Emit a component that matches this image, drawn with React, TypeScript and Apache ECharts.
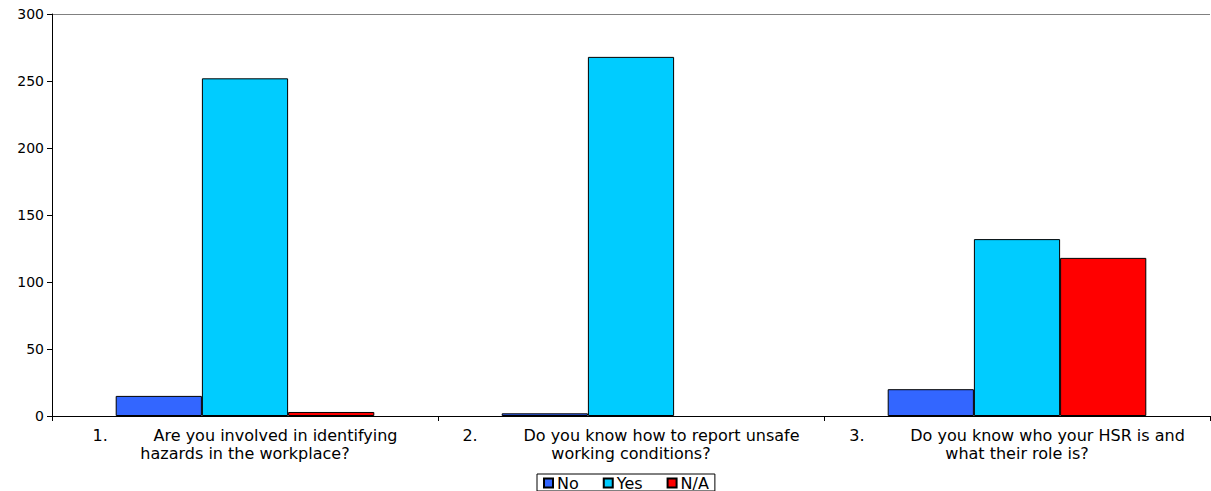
import React, { useEffect, useRef } from "react";
import * as echarts from "echarts";

const categories = [
  "1.         Are you involved in identifying\nhazards in the workplace?",
  "2.         Do you know how to report unsafe\nworking conditions?",
  "3.         Do you know who your HSR is and\nwhat their role is?",
];
const seriesNames = ["No", "Yes", "N/A"];
const noValues = [15, 2, 20];
const yesValues = [252, 268, 132];
const naValues = [3, null, 118];
const seriesColors = ["#3366FF", "#00CCFF", "#FF0000"];

export default function App() {
  const ref = useRef<HTMLDivElement>(null);
  useEffect(() => {
    if (!ref.current) return;
    const chart = echarts.init(ref.current, null, { renderer: "svg" });
    const font = "DejaVu Sans";
    const values = [noValues, yesValues, naValues];
    chart.setOption({
      animation: false,
      textStyle: { fontFamily: font },
      grid: { left: 52, right: 1, top: 14, bottom: 75, containLabel: false },
      legend: {
        bottom: 0,
        left: 537,
        data: seriesNames,
        icon: "rect",
        itemWidth: 9,
        itemHeight: 9,
        itemGap: 24,
        borderColor: "#000",
        borderWidth: 1,
        padding: [1, 6, 0, 6],
        textStyle: { fontSize: 16, color: "#000", fontFamily: font, padding: [0, 0, 0, -1] },
      },
      xAxis: {
        type: "category",
        data: categories,
        axisLine: { lineStyle: { color: "#000", width: 1 } },
        axisTick: { show: true, alignWithLabel: false, length: 5, lineStyle: { color: "#000" } },
        axisLabel: {
          interval: 0,
          fontSize: 16,
          color: "#000",
          lineHeight: 18,
          margin: 10,
          fontFamily: font,
          align: "center",
        },
      },
      yAxis: {
        type: "value",
        min: 0,
        max: 300,
        interval: 50,
        axisLine: { show: true, lineStyle: { color: "#000", width: 1 } },
        axisTick: { show: true, length: 5, lineStyle: { color: "#000" } },
        axisLabel: { fontSize: 14, color: "#000", margin: 8, fontFamily: font },
        splitLine: {
          show: true,
          lineStyle: {
            color: ["rgba(0,0,0,0)", "rgba(0,0,0,0)", "rgba(0,0,0,0)", "rgba(0,0,0,0)", "rgba(0,0,0,0)", "rgba(0,0,0,0)", "#808080"],
            width: 1,
          },
        },
      },
      series: seriesNames.map((name, i) => ({
        name,
        type: "bar",
        data: values[i],
        barGap: "0%",
        barCategoryGap: "33%",
        itemStyle: { color: seriesColors[i], borderColor: "#000", borderWidth: 1 },
      })),
    });
    return () => chart.dispose();
  }, []);
  return (
    <div
      ref={ref}
      style={{ width: 1211, height: 491, position: "absolute", left: 0, top: 0 }}
    />
  );
}
